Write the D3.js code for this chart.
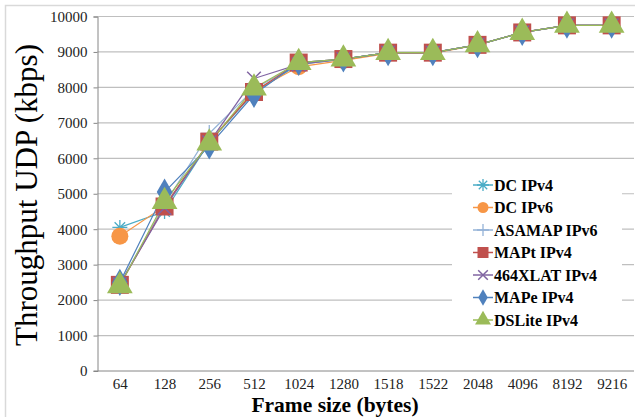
<!DOCTYPE html>
<html><head><meta charset="utf-8">
<script src="https://cdn.jsdelivr.net/npm/d3@7"></script>
<style>body{margin:0;background:#fff}svg{display:block}text{font-family:"Liberation Serif","DejaVu Serif",serif}</style>
</head><body>
<script>
const categories = ["64","128","256","512","1024","1280","1518","1522","2048","4096","8192","9216"];
const yTicks = [0,1000,2000,3000,4000,5000,6000,7000,8000,9000,10000];
const seriesNames = ["DC IPv4","DC IPv6","ASAMAP IPv6","MAPt IPv4","464XLAT IPv4","MAPe IPv4","DSLite IPv4"];
const dcIPv4    = [4050,4500,6450,7850,8650,8800,8980,8980,9200,9550,9750,9750];
const dcIPv6    = [3800,4650,6450,7900,8580,8760,8960,8960,9200,9550,9750,9750];
const asamapIPv6= [2450,4700,6700,7950,8680,8800,8980,8980,9200,9550,9750,9750];
const maptIPv4  = [2430,4640,6470,7870,8700,8800,8980,8980,9200,9550,9750,9750];
const xlatIPv4  = [2450,4600,6450,8250,8650,8800,8980,8980,9200,9550,9750,9750];
const mapeIPv4  = [2500,5050,6350,7800,8700,8800,8980,8980,9200,9550,9750,9750];
const dsliteIPv4= [2400,4780,6430,7980,8700,8800,8980,8980,9200,9550,9750,9750];
const seriesValues = [dcIPv4,dcIPv6,asamapIPv6,maptIPv4,xlatIPv4,mapeIPv4,dsliteIPv4];
const colors = ["#4bacc6","#f79646","#95b3d7","#c0504d","#8064a2","#4f81bd","#9bbb59"];
const shapes = ["asterisk","circle","plus","square","cross","diamond","triangle"];

const W=635,H=417;
const svg=d3.select("body").append("svg").attr("width",W).attr("height",H);
svg.append("rect").attr("x",5.5).attr("y",5.5).attr("width",W).attr("height",H).attr("fill","#fff").attr("stroke","#d9d9d9").attr("stroke-width",1.5);

const L=97.5,R=634,T=16.5,B=371;
const x=d3.scalePoint().domain(categories).range([L,R]).padding(0.5);
const y=d3.scaleLinear().domain([0,10000]).range([B,T]);

svg.append("g").selectAll("line").data(yTicks.filter(d=>d>0)).join("line")
  .attr("x1",L).attr("x2",R).attr("y1",d=>y(d)).attr("y2",d=>y(d))
  .attr("stroke","#bfbfbf").attr("stroke-width",1.2);

const yAxis=svg.append("g").attr("transform",`translate(${L},0)`)
  .call(d3.axisLeft(y).tickValues(yTicks).tickSize(4).tickPadding(6).tickFormat(d3.format("d")));
yAxis.attr("font-family",null);
yAxis.select(".domain").attr("stroke","#868686");
yAxis.selectAll(".tick line").attr("stroke","#868686");
yAxis.selectAll("text").attr("font-size",15).attr("fill","#222");
yAxis.selectAll(".tick").filter(d=>d===0).select("line").remove();

const xAxis=svg.append("g").attr("transform",`translate(0,${B})`)
  .call(d3.axisBottom(x).tickSize(0).tickPadding(7));
xAxis.attr("font-family",null);
xAxis.select(".domain").attr("stroke","#868686").attr("d",`M${L-4},0H${R}`);
xAxis.selectAll("text").attr("font-size",15).attr("fill","#222");

svg.append("text").attr("transform",`translate(37,${195}) rotate(-90)`).attr("text-anchor","middle")
  .attr("font-size",31).attr("fill","#000").text("Throughput UDP (kbps)");
svg.append("text").attr("x",335).attr("y",412).attr("text-anchor","middle")
  .attr("font-size",21.5).attr("font-weight","bold").attr("fill","#000").text("Frame size (bytes)");

function drawMarker(g,shape,color,s){
  if(shape==="asterisk"){
    const r=s;
    g.append("path").attr("d",`M${-r},0H${r}M${-r*0.7},${-r*0.7}L${r*0.7},${r*0.7}M${-r*0.7},${r*0.7}L${r*0.7},${-r*0.7}M0,${-r}V${r}`)
     .attr("stroke",color).attr("stroke-width",1.3).attr("fill","none");
  } else if(shape==="plus"){
    g.append("path").attr("d",`M${-s},0H${s}M0,${-s}V${s}`).attr("stroke",color).attr("stroke-width",1.3);
  } else if(shape==="cross"){
    const r=s*0.8;
    g.append("path").attr("d",`M${-r},${-r}L${r},${r}M${-r},${r}L${r},${-r}`).attr("stroke",color).attr("stroke-width",1.5);
  } else {
    const typ={circle:d3.symbolCircle,square:d3.symbolSquare,diamond:d3.symbolDiamond,triangle:d3.symbolTriangle}[shape];
    const area={circle:Math.PI*s*s,square:4*s*s,diamond:2.6*s*s,triangle:2.6*s*s}[shape];
    g.append("path").attr("d",d3.symbol().type(typ).size(area)()).attr("fill",color);
  }
}

const line=d3.line().x((d,i)=>x(categories[i])).y(d=>y(d));
seriesValues.forEach((vals,k)=>{
  svg.append("path").datum(vals).attr("d",line).attr("fill","none").attr("stroke",colors[k]).attr("stroke-width",1.2);
});
const big={asterisk:7.5,circle:8.5,plus:8.5,square:9,cross:8.5,diamond:9,triangle:10.5};
seriesValues.forEach((vals,k)=>{
  vals.forEach((v,i)=>{
    const g=svg.append("g").attr("transform",`translate(${x(categories[i])},${y(v)})`);
    drawMarker(g,shapes[k],colors[k],big[shapes[k]]);
  });
});

const lg=svg.append("g");
lg.append("rect").attr("x",452).attr("y",172).attr("width",170).attr("height",161).attr("fill","#fff");
const small={asterisk:6,circle:5.5,plus:6,square:5.5,cross:6,diamond:5.5,triangle:6.5};
seriesNames.forEach((n,k)=>{
  const yy=185+k*22.5;
  lg.append("line").attr("x1",473).attr("x2",493).attr("y1",yy).attr("y2",yy).attr("stroke",colors[k]).attr("stroke-width",1.5);
  const g=lg.append("g").attr("transform",`translate(483,${yy})`);
  drawMarker(g,shapes[k],colors[k],small[shapes[k]]);
  lg.append("text").attr("x",494).attr("y",yy).attr("dy","0.35em")
    .attr("font-size",16).attr("font-weight","bold").attr("fill","#000").text(n);
});
</script>
</body></html>
